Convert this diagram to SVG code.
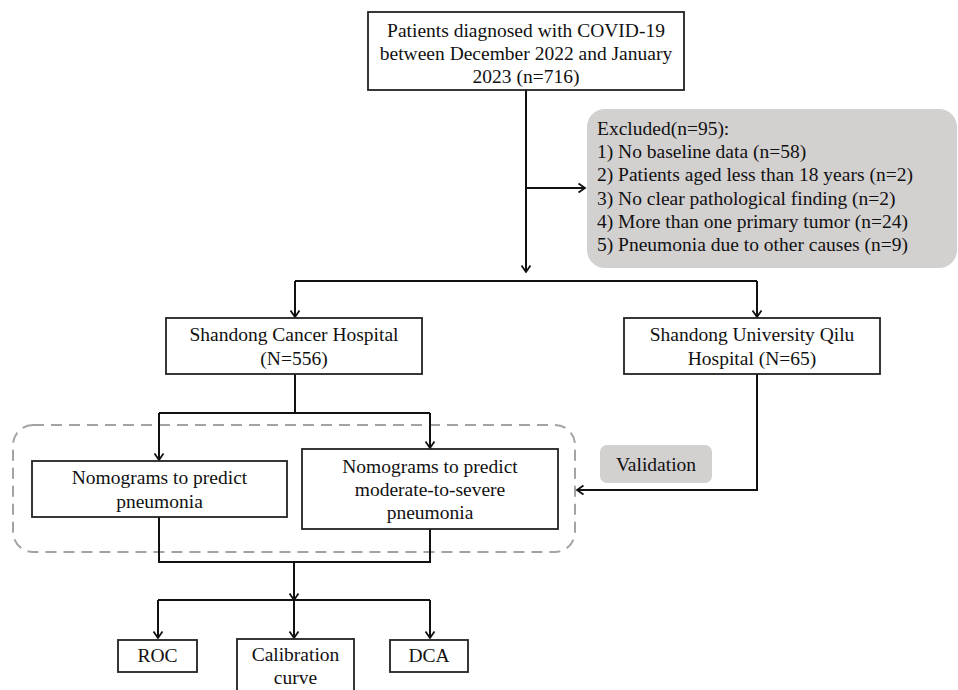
<svg xmlns="http://www.w3.org/2000/svg" width="958" height="690" viewBox="0 0 958 690">
<style>
  text { font-family: "Liberation Serif", "Times New Roman", serif; font-size: 19.5px; fill: #111; }
  .c { text-anchor: middle; }
  .box { fill: #fff; stroke: #222; stroke-width: 1.8; }
  .grey { fill: #d3d0d0; stroke: none; }
  .conn { fill: none; stroke: #111; stroke-width: 2; }
  .dash { fill: none; stroke: #a3a3a3; stroke-width: 2; stroke-dasharray: 11 7; }
</style>
<defs>
  <marker id="arr" markerUnits="userSpaceOnUse" markerWidth="12" markerHeight="12" refX="8" refY="6" orient="auto">
    <path d="M1.5,1.5 L8,6 L1.5,10.5" fill="none" stroke="#111" stroke-width="1.8"/>
  </marker>
</defs>
<rect width="958" height="690" fill="#fff"/>

<g id="group-dashed">
  <rect class="dash" x="13" y="425" width="562" height="127" rx="20" ry="20"/>
</g>

<g id="connectors">
  <path class="conn" d="M526,90 V272" marker-end="url(#arr)"/>
  <path class="conn" d="M526,188 H585" marker-end="url(#arr)"/>
  <path class="conn" d="M295,281 H757"/>
  <path class="conn" d="M295,281 V317" marker-end="url(#arr)"/>
  <path class="conn" d="M757,281 V317" marker-end="url(#arr)"/>
  <path class="conn" d="M295,374 V413"/>
  <path class="conn" d="M159,413 H430"/>
  <path class="conn" d="M159,413 V460" marker-end="url(#arr)"/>
  <path class="conn" d="M430,413 V448" marker-end="url(#arr)"/>
  <path class="conn" d="M757,374 V490 H577" marker-end="url(#arr)"/>
  <path class="conn" d="M159,517 V562 H430 V529"/>
  <path class="conn" d="M294,562 V600" marker-end="url(#arr)"/>
  <path class="conn" d="M158,600 H430"/>
  <path class="conn" d="M158,600 V638" marker-end="url(#arr)"/>
  <path class="conn" d="M294,600 V638" marker-end="url(#arr)"/>
  <path class="conn" d="M430,600 V638" marker-end="url(#arr)"/>
</g>

<g id="node-patients">
  <rect class="box" x="368" y="12" width="316" height="78"/>
  <text class="c" x="526" y="37">Patients diagnosed with COVID-19</text>
  <text class="c" x="526" y="60">between December 2022 and January</text>
  <text class="c" x="526" y="83">2023 (n=716)</text>
</g>

<g id="node-excluded">
  <rect class="grey" x="587" y="109" width="370" height="159" rx="18" ry="18"/>
  <text x="597" y="135">Excluded(n=95):</text>
  <text x="597" y="158">1) No baseline data (n=58)</text>
  <text x="597" y="181">2) Patients aged less than 18 years (n=2)</text>
  <text x="597" y="205">3) No clear pathological finding (n=2)</text>
  <text x="597" y="228">4) More than one primary tumor (n=24)</text>
  <text x="597" y="251">5) Pneumonia due to other causes (n=9)</text>
</g>

<g id="node-shandong-cancer">
  <rect class="box" x="166" y="318" width="256" height="56"/>
  <text class="c" x="294" y="341">Shandong Cancer Hospital</text>
  <text class="c" x="294" y="365">(N=556)</text>
</g>

<g id="node-qilu">
  <rect class="box" x="624" y="318" width="256" height="56"/>
  <text class="c" x="752" y="341">Shandong University Qilu</text>
  <text class="c" x="752" y="365">Hospital (N=65)</text>
</g>

<g id="node-nomo-pneumonia">
  <rect class="box" x="32" y="461" width="255" height="56"/>
  <text class="c" x="159.5" y="484">Nomograms to predict</text>
  <text class="c" x="159.5" y="508">pneumonia</text>
</g>

<g id="node-nomo-severe">
  <rect class="box" x="302" y="449" width="256" height="80"/>
  <text class="c" x="430" y="473">Nomograms to predict</text>
  <text class="c" x="430" y="496">moderate-to-severe</text>
  <text class="c" x="430" y="519">pneumonia</text>
</g>

<g id="node-validation">
  <rect class="grey" x="600" y="445" width="112" height="38" rx="7" ry="7"/>
  <text class="c" x="656" y="471">Validation</text>
</g>

<g id="node-roc">
  <rect class="box" x="118" y="640" width="79" height="32"/>
  <text class="c" x="157.5" y="662">ROC</text>
</g>

<g id="node-calibration">
  <rect class="box" x="237" y="639" width="117" height="60"/>
  <text class="c" x="295.5" y="661">Calibration</text>
  <text class="c" x="295.5" y="684">curve</text>
</g>

<g id="node-dca">
  <rect class="box" x="390" y="640" width="78" height="32"/>
  <text class="c" x="429" y="662">DCA</text>
</g>
</svg>
